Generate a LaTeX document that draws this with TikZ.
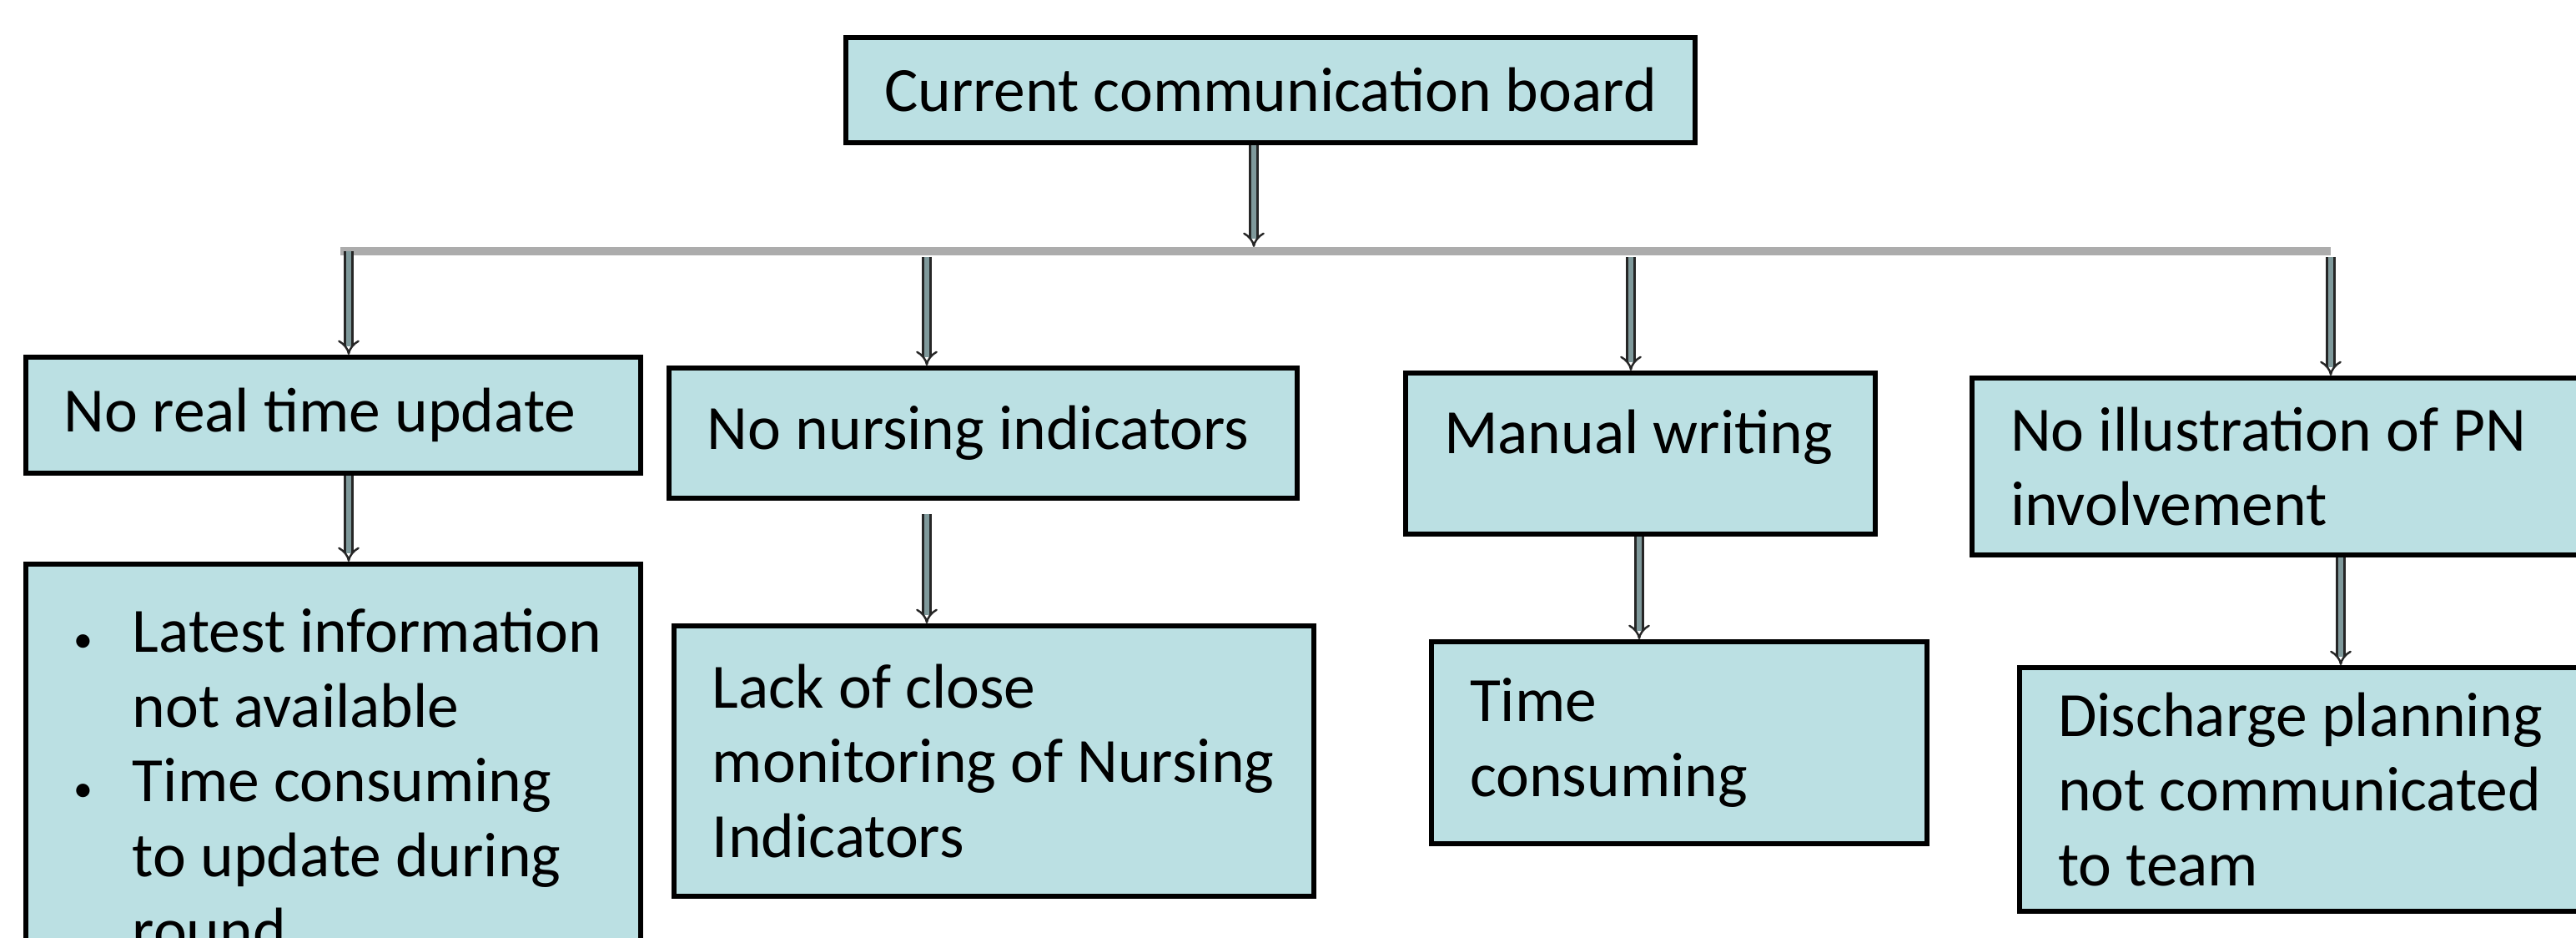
\documentclass[tikz,border=0pt]{standalone}
\usepackage{fontspec}
\setmainfont{Carlito}
\usepackage{xcolor}
\usepackage{tikz}
\usetikzlibrary{arrows.meta,calc,positioning}
\definecolor{boxfill}{RGB}{187,224,227}
\definecolor{busgray}{RGB}{172,172,172}
\definecolor{arrowfill}{RGB}{127,153,155}

\begin{document}
\begin{tikzpicture}[-,auto,
                    main node/.style={rectangle,fill=boxfill,draw=black,line width=1.7pt,anchor=north west,inner xsep=0.46cm,inner ysep=0pt,align=flush left,font=\fontsize{21.5pt}{25.5pt}\selectfont},
                    bus/.style={draw=busgray,line width=3.1pt},
                    down arrow/.style={draw=black!85,line width=0.7pt,double=arrowfill,double distance=1.8pt,-{Implies[length=5pt,width=9pt]}}]
\clip (0,0) rectangle (30.88,-11.24);

%DRAWING TOP BOX
  \node[main node,minimum width=10.18cm,minimum height=1.26cm,align=center] (0) at (10.11,-0.42) {Current communication board};

%DRAWING PROBLEMS
  \node[main node,text width=6.45cm,minimum height=1.39cm] (1) at (0.28,-4.25) {No real time update};
  \node[main node,text width=6.61cm,minimum height=1.56cm] (2) at (7.99,-4.38) {No nursing indicators};
  \node[main node,text width=4.71cm,minimum height=1.93cm,text height=0.5cm,text depth=0.5cm] (3) at (16.82,-4.44) {Manual writing};
  \node[main node,text width=6.57cm,minimum height=2.12cm] (4) at (23.61,-4.50) {No illustration of PN\\involvement};

%DRAWING EFFECTS
  \node[main node,text width=6.45cm,minimum height=5.18cm] (1Effect) at (0.28,-6.73)
    {\hspace*{0.12cm}\makebox[0.7cm][l]{\fontsize{13pt}{13pt}\selectfont\textbullet}Latest~information\\
     \hspace*{0.82cm}not available\\
     \hspace*{0.12cm}\makebox[0.7cm][l]{\fontsize{13pt}{13pt}\selectfont\textbullet}Time~consuming\\
     \hspace*{0.82cm}to~update~during\\
     \hspace*{0.82cm}round};
  \node[main node,text width=6.75cm,minimum height=3.24cm] (2Effect) at (8.05,-7.47) {Lack of close\\monitoring~of~Nursing\\Indicators};
  \node[main node,text width=5.02cm,minimum height=2.42cm] (3Effect) at (17.13,-7.66) {Time\\consuming};
  \node[main node,text width=6.0cm,minimum height=2.92cm] (4Effect) at (24.18,-7.97) {Discharge~planning\\not~communicated\\to team};

%DRAWING BUS
  \coordinate (BusLeft) at (4.08,-3.01);
  \coordinate (BusRight) at (27.94,-3.01);
  \coordinate (0Drop) at (15.03,-2.96);
  \coordinate (1Drop) at (4.18,-3.01);
  \coordinate (2Drop) at (11.11,-3.08);
  \coordinate (3Drop) at (19.55,-3.08);
  \coordinate (4Drop) at (27.94,-3.08);
  \draw[bus] (BusLeft) -- (BusRight);

%DRAWING ARROWS
  \draw[down arrow] (0.south -| 0Drop) -- (0Drop);
  \draw[down arrow] (1Drop) -- (1Drop |- 1.north);
  \draw[down arrow] (2Drop) -- (2Drop |- 2.north);
  \draw[down arrow] (3Drop) -- (3Drop |- 3.north);
  \draw[down arrow] (4Drop) -- (4Drop |- 4.north);

  \draw[down arrow] (1.south -| 1Drop) -- (1Drop |- 1Effect.north);
  \draw[down arrow] ([yshift=-0.16cm]2.south -| 2Drop) -- (2Drop |- 2Effect.north);
  \draw[down arrow] ([xshift=0.1cm]3Drop |- 3.south) -- ([xshift=0.1cm]3Drop |- 3Effect.north);
  \draw[down arrow] ([xshift=0.12cm]4Drop |- 4.south) -- ([xshift=0.12cm]4Drop |- 4Effect.north);

\end{tikzpicture}
\end{document}
